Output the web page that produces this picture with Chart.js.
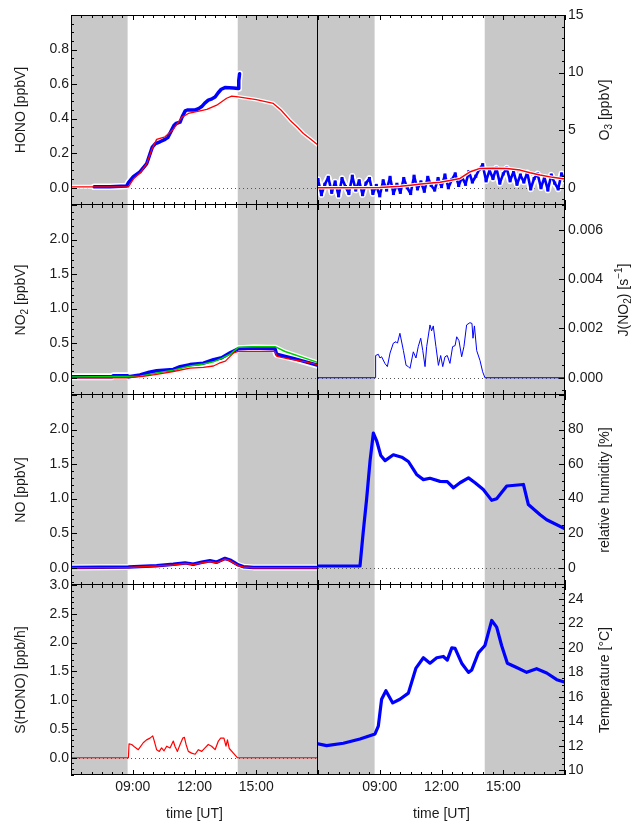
<!DOCTYPE html>
<html>
<head>
<meta charset="utf-8">
<script src="https://cdn.jsdelivr.net/npm/chart.js@4.4.1/dist/chart.umd.min.js"></script>
<style>
  body { margin: 0; background: #fff; }
  #wrap { position: relative; width: 635px; height: 824px; overflow: hidden; }
  #wrap canvas { position: absolute; }
</style>
</head>
<body>
<div id="wrap"></div>
<script>
// ---- shared time axis (hours UT) ----
const xMin = 6, xMax = 18;
const xTickHours = [9, 12, 15];
const xTickLabels = ['09:00', '12:00', '15:00'];
const nightBands = [[6, 8.75], [14.1, 18]];

// ---- HONO ----
const honoMeasHour = [7.13, 7.9, 8.7, 8.79, 9.03, 9.35, 9.68, 9.85, 9.95, 10.1, 10.32, 10.57, 10.7, 10.85, 11.0, 11.1, 11.3, 11.4, 11.55, 11.65, 12.03, 12.2, 12.35, 12.5, 12.67, 12.85, 13.0, 13.15, 13.3, 13.48, 13.89, 14.13, 14.15, 14.19];
const honoMeasVal = [0.005, 0.006, 0.01, 0.03, 0.064, 0.092, 0.14, 0.2, 0.235, 0.255, 0.266, 0.28, 0.29, 0.325, 0.36, 0.372, 0.38, 0.41, 0.445, 0.45, 0.45, 0.458, 0.47, 0.49, 0.507, 0.515, 0.525, 0.55, 0.57, 0.58, 0.578, 0.575, 0.62, 0.66];
const honoModelHour = [6.0, 8.79, 9.03, 9.35, 9.68, 9.92, 10.16, 10.57, 10.97, 11.38, 11.7, 12.1, 12.6, 13.08, 13.56, 13.81, 14.12, 15.0, 15.83, 16.2, 16.64, 17.0, 17.29, 17.65, 18.0];
const honoModelVal = [0.005, 0.005, 0.05, 0.085, 0.14, 0.22, 0.28, 0.295, 0.338, 0.407, 0.43, 0.44, 0.454, 0.478, 0.518, 0.53, 0.526, 0.51, 0.488, 0.45, 0.391, 0.35, 0.314, 0.28, 0.247];
const honoTicks = [0, 0.2, 0.4, 0.6, 0.8];

// ---- O3 ----
const o3Time = ['06:00','06:10','06:20','06:30','06:40','06:50','07:00','07:10','07:20','07:30','07:40','07:50',
  '08:00','08:10','08:20','08:30','08:40','08:50','09:00','09:10','09:20','09:30','09:40','09:50',
  '10:00','10:10','10:20','10:30','10:40','10:50','11:00','11:10','11:20','11:30','11:40','11:50',
  '12:00','12:10','12:20','12:30','12:40','12:50','13:00','13:10','13:20','13:30','13:40','13:50',
  '14:00','14:10','14:20','14:30','14:40','14:50','15:00','15:10','15:20','15:30','15:40','15:50',
  '16:00','16:10','16:20','16:30','16:40','16:50','17:00','17:10','17:20','17:30','17:40','17:50','18:00'];
const o3Val = [0.7, -0.6, 0.3, 0.9, -0.4, 0.5, -0.7, 0.8, 0.1, -0.5, 1.0, -0.2,
  0.6, -0.6, 0.4, 0.8, -0.5, 0.2, -0.7, 0.6, -0.2, 0.9, -0.5, 0.3,
  -0.4, 0.8, 0.0, -0.5, 1.0, -0.1, 0.5, -0.3, 0.9, 0.2, -0.2, 0.8,
  0.1, 1.1, 0.0, 0.7, 1.2, 0.2, 0.9, 0.3, 1.4, 0.5, 1.0, 1.6,
  2.0, 0.6, 1.5, 0.8, 1.7, 0.4, 1.2, 1.7, 0.6, 1.4, 0.3, 1.1,
  0.5, 1.3, -0.1, 0.8, 1.2, 0.0, 0.9, -0.2, 1.1, 0.4, -0.1, 1.2, 0.6];
const o3ModelHour = [6.0, 9.0, 10.0, 10.5, 11.0, 11.5, 11.93, 12.4, 12.9, 13.4, 13.87, 14.5, 15.17, 15.82, 16.3, 16.79, 17.4, 18.0];
const o3ModelVal = [0.0, 0.02, 0.12, 0.22, 0.32, 0.4, 0.48, 0.62, 0.81, 1.39, 1.68, 1.7, 1.66, 1.53, 1.3, 1.1, 0.9, 0.75];
const o3Ticks = [0, 5, 10, 15];

// ---- NO2 ----
const no2MeasHour = [6.0, 8.0, 8.06, 8.75, 8.8, 9.35, 9.8, 10.16, 10.97, 11.3, 11.78, 12.43, 12.92, 13.32, 13.73, 14.13, 14.86, 15.91, 15.99, 16.8, 18.0];
const no2MeasVal = [0.015, 0.015, 0.03, 0.03, 0.015, 0.04, 0.08, 0.10, 0.12, 0.16, 0.19, 0.21, 0.26, 0.29, 0.36, 0.42, 0.43, 0.42, 0.34, 0.28, 0.18];
const no2GreenHour = [6.0, 9.35, 10.16, 10.97, 11.78, 12.43, 12.92, 13.32, 13.73, 14.13, 15.0, 15.91, 16.4, 16.8, 17.4, 18.0];
const no2GreenVal = [0.01, 0.02, 0.07, 0.11, 0.17, 0.2, 0.23, 0.28, 0.34, 0.44, 0.45, 0.45, 0.38, 0.34, 0.28, 0.22];
const no2RedHour = [6.0, 8.79, 9.5, 10.16, 10.97, 11.78, 12.43, 12.92, 13.2, 13.5, 13.9, 14.13, 15.91, 16.0, 16.8, 17.4, 18.0];
const no2RedVal = [0.0, 0.0, 0.02, 0.05, 0.09, 0.14, 0.15, 0.17, 0.21, 0.24, 0.36, 0.38, 0.38, 0.31, 0.26, 0.23, 0.19];
const no2Ticks = [0, 0.5, 1.0, 1.5, 2.0];

// ---- J(NO2) ----
const jHour = [6.0, 8.77, 8.8, 8.93, 9.01, 9.09, 9.25, 9.37, 9.5, 9.66, 9.79, 9.86, 9.98, 10.15, 10.28, 10.39, 10.47, 10.63, 10.76, 10.87,
  10.99, 11.09, 11.2, 11.28, 11.44, 11.52, 11.6, 11.73, 11.85, 11.96, 12.06, 12.17, 12.28, 12.41, 12.54, 12.66, 12.74, 12.85, 12.98, 13.09,
  13.22, 13.38, 13.48, 13.53, 13.6, 13.71, 13.87, 14.0, 14.11, 18.0];
const jVal = [0, 0, 0.0009, 0.00095, 0.0008, 0.00085, 0.00058, 0.00045, 0.001, 0.0014, 0.00146, 0.0014, 0.0018, 0.0011, 0.0005, 0.00045, 0.00038, 0.00105, 0.0008, 0.00126,
  0.0016, 0.0011, 0.00045, 0.00126, 0.00214, 0.0019, 0.0021, 0.00126, 0.0005, 0.0009, 0.00045, 0.00085, 0.0009, 0.00058, 0.00126, 0.0013, 0.00166, 0.0015, 0.00085, 0.00126,
  0.00214, 0.00223, 0.0022, 0.0016, 0.0021, 0.0011, 0.0007, 0.00024, 0, 0];
const jTicks = [0, 0.002, 0.004, 0.006];

// ---- NO ----
const noHour = [6.0, 8.79, 10.16, 10.97, 11.54, 11.94, 12.35, 12.75, 13.08, 13.48, 13.73, 14.13, 14.37, 14.86, 18.0];
const noMeasVal = [0.003, 0.01, 0.03, 0.05, 0.07, 0.05, 0.08, 0.1, 0.08, 0.135, 0.11, 0.04, 0.015, 0.005, 0.005];
const noModelVal = [0.0, 0.005, 0.025, 0.04, 0.06, 0.045, 0.07, 0.09, 0.07, 0.125, 0.10, 0.03, 0.01, 0.0, 0.0];
const noTicks = [0, 0.5, 1.0, 1.5, 2.0];

// ---- relative humidity ----
const rhHour = [6.0, 8.04, 8.2, 8.36, 8.53, 8.69, 8.85, 9.05, 9.26, 9.66, 10.07, 10.39, 10.79, 11.12, 11.44, 11.93, 12.28, 12.58, 12.9, 13.31, 13.63, 14.03, 14.44, 14.68, 15.17, 15.98, 16.22, 16.79, 17.11, 18.0];
const rhVal = [1, 1, 21, 39.5, 62, 78, 73.5, 65, 62, 65.4, 64, 61.5, 54, 51, 51.8, 50, 49.8, 46.3, 49.2, 52, 49.2, 45.3, 39, 40, 47.3, 48.2, 36.6, 30.7, 27.8, 22.6];
const rhTicks = [0, 20, 40, 60, 80];

// ---- S(HONO) ----
const sHour = [6.0, 8.79, 8.82, 8.95, 9.11, 9.27, 9.51, 9.67, 9.84, 9.97, 10.03, 10.16, 10.29, 10.4, 10.52, 10.65, 10.81, 10.97, 11.05, 11.17, 11.3,
  11.43, 11.51, 11.59, 11.7, 11.86, 12.03, 12.19, 12.35, 12.51, 12.67, 12.83, 13.0, 13.16, 13.27, 13.43, 13.53, 13.6, 13.69, 13.89, 14.08, 18.0];
const sVal = [0, 0, 0.24, 0.23, 0.18, 0.14, 0.26, 0.31, 0.34, 0.38, 0.31, 0.14, 0.11, 0.17, 0.12, 0.2, 0.17, 0.29, 0.2, 0.11, 0.23,
  0.34, 0.355, 0.23, 0.11, 0.08, 0.06, 0.14, 0.11, 0.17, 0.23, 0.2, 0.14, 0.29, 0.34, 0.34, 0.2, 0.31, 0.16, 0.08, 0, 0];
const sTicks = [0, 0.5, 1.0, 1.5, 2.0, 2.5, 3.0];

// ---- temperature ----
const tHour = [6.0, 6.42, 7.23, 8.04, 8.77, 8.93, 9.09, 9.3, 9.63, 9.98, 10.39, 10.76, 11.12, 11.44, 11.77, 12.09, 12.28, 12.5, 12.66, 12.98,
  13.31, 13.47, 13.79, 14.11, 14.44, 14.68, 14.92, 15.2, 15.65, 16.14, 16.62, 17.11, 17.6, 18.0];
const tVal = [12.15, 12.0, 12.2, 12.55, 12.96, 13.6, 15.8, 16.5, 15.5, 15.8, 16.3, 18.35, 19.2, 18.75, 19.2, 19.3, 19.0, 20.0, 19.96, 18.75,
  18.0, 18.2, 19.6, 20.2, 22.25, 21.7, 20.2, 18.75, 18.4, 18.0, 18.3, 17.95, 17.4, 17.2];
const tTicks = [10, 12, 14, 16, 18, 20, 22, 24];

const FONT = '"Liberation Sans", Arial, Helvetica, sans-serif';
const TEXT = '#1a1a1a';
const PAD = 12;
const wrap = document.getElementById('wrap');

function toHour(s) {
    const p = s.split(':');
    return +p[0] + (+p[1]) / 60;
}

function pts(xs, ys) {
    return xs.map((x, i) => ({ x: x, y: ys[i] }));
}

function line(data, color, width, order) {
    return { data: data, borderColor: color, borderWidth: width, pointRadius: 0, pointHoverRadius: 0, fill: false, tension: 0, order: order, borderJoinStyle: 'round', borderCapStyle: 'round' };
}

// title pieces: '_x' = subscript, '^x' = superscript
function drawTitle(ctx, segs, cx, cy) {
    ctx.save();
    ctx.translate(cx, cy);
    ctx.rotate(-Math.PI / 2);
    ctx.fillStyle = TEXT;
    ctx.textBaseline = 'middle';
    ctx.textAlign = 'left';
    const parts = segs.map(s => {
        if (s[0] === '_') return { t: s.slice(1), size: 10, dy: 4 };
        if (s[0] === '^') return { t: s.slice(1), size: 10, dy: -5 };
        return { t: s, size: 14, dy: 0 };
    });
    let w = 0;
    parts.forEach(p => { ctx.font = p.size + 'px ' + FONT; p.w = ctx.measureText(p.t).width; w += p.w; });
    let x0 = -w / 2;
    parts.forEach(p => { ctx.font = p.size + 'px ' + FONT; ctx.fillText(p.t, x0, p.dy); x0 += p.w; });
    ctx.restore();
}

function makeDeco(cfg, isLeft, isBottom, cLeft, cTop) {
    return {
        id: 'deco',
        beforeDatasetsDraw(chart) {
            const ctx = chart.ctx, a = chart.chartArea, x = chart.scales.x, y = chart.scales.y;
            ctx.save();
            ctx.beginPath();
            ctx.rect(a.left, a.top, a.right - a.left, a.bottom - a.top);
            ctx.clip();
            ctx.fillStyle = 'rgb(200,200,200)';
            nightBands.forEach(b => {
                const x0 = x.getPixelForValue(b[0]), x1 = x.getPixelForValue(b[1]);
                ctx.fillRect(x0, a.top, x1 - x0, a.bottom - a.top);
            });
            if (cfg.yMin < 0 && cfg.yMax > 0) {
                const yz = Math.round(y.getPixelForValue(0)) + 0.5;
                ctx.strokeStyle = '#555';
                ctx.lineWidth = 1;
                ctx.setLineDash([1, 3]);
                ctx.beginPath();
                ctx.moveTo(a.left, yz);
                ctx.lineTo(a.right, yz);
                ctx.stroke();
            }
            ctx.restore();
        },
        afterDraw(chart) {
            const ctx = chart.ctx, a = chart.chartArea, x = chart.scales.x, y = chart.scales.y;
            ctx.save();
            ctx.strokeStyle = '#000';
            ctx.lineWidth = 1;
            ctx.beginPath();
            // frame (shared edges drawn once)
            const L = a.left + 0.5, R = a.right - 0.5, T = a.top + 0.5, B = a.bottom - 0.5;
            if (cfg.row === 0) { ctx.moveTo(a.left, T); ctx.lineTo(a.right, T); }
            ctx.moveTo(a.left, B); ctx.lineTo(a.right, B);
            if (isLeft) { ctx.moveTo(L, a.top); ctx.lineTo(L, a.bottom); }
            ctx.moveTo(R, a.top); ctx.lineTo(R, a.bottom);
            // y ticks, inward
            const n0 = Math.ceil(cfg.yMin / cfg.yMinor - 1e-9), n1 = Math.floor(cfg.yMax / cfg.yMinor + 1e-9);
            for (let k = n0; k <= n1; k++) {
                const v = k * cfg.yMinor;
                const r = v / cfg.yMajor;
                const len = Math.abs(r - Math.round(r)) < 1e-6 ? 6 : 3;
                const py = Math.round(y.getPixelForValue(v)) + 0.5;
                if (isLeft) { ctx.moveTo(a.left, py); ctx.lineTo(a.left + len, py); }
                else { ctx.moveTo(a.right, py); ctx.lineTo(a.right - len, py); }
            }
            // x ticks on top and bottom, inward
            for (let k = xMin * 2; k <= xMax * 2; k++) {
                const v = k / 2;
                const len = v % 3 === 0 ? 5 : 3;
                const px = Math.round(x.getPixelForValue(v)) + 0.5;
                ctx.moveTo(px, a.top); ctx.lineTo(px, a.top + len);
                ctx.moveTo(px, a.bottom); ctx.lineTo(px, a.bottom - len);
            }
            ctx.stroke();
            ctx.restore();
            drawTitle(ctx, cfg.title, cfg.titleX - cLeft, (a.top + a.bottom) / 2);
            if (isBottom) {
                ctx.save();
                ctx.fillStyle = TEXT;
                ctx.font = '14px ' + FONT;
                ctx.textAlign = 'center';
                ctx.textBaseline = 'middle';
                ctx.fillText('time [UT]', (a.left + a.right) / 2, 814 - cTop);
                ctx.restore();
            }
        }
    };
}

function makePanel(cfg) {
    const isLeft = cfg.side === 'left';
    const isBottom = cfg.row === 3;
    const chartTop = 15 + 190 * cfg.row;
    const cLeft = isLeft ? 0 : 316;
    const cWidth = isLeft ? 320 : 319;
    const cTop = chartTop - PAD;
    const cHeight = isBottom ? 824 - cTop : 190 + 2 * PAD;

    const canvas = document.createElement('canvas');
    canvas.width = cWidth;
    canvas.height = cHeight;
    canvas.style.left = cLeft + 'px';
    canvas.style.top = cTop + 'px';
    canvas.style.width = cWidth + 'px';
    canvas.style.height = cHeight + 'px';
    wrap.appendChild(canvas);

    new Chart(canvas, {
        type: 'line',
        data: { datasets: cfg.datasets },
        options: {
            responsive: false,
            animation: false,
            events: [],
            layout: { autoPadding: false, padding: { top: PAD, bottom: isBottom ? 0 : PAD, left: isLeft ? 0 : 2, right: isLeft ? 2 : 0 } },
            plugins: { legend: { display: false }, tooltip: { enabled: false } },
            scales: {
                x: {
                    type: 'linear', min: xMin, max: xMax, display: isBottom,
                    grid: { display: false, drawTicks: false }, border: { display: false },
                    afterBuildTicks: s => { s.ticks = xTickHours.map(v => ({ value: v })); },
                    ticks: { callback: (v, i) => xTickLabels[i], font: { family: FONT, size: 14 }, color: TEXT, padding: 4, maxRotation: 0, autoSkip: false },
                    afterFit: s => { if (isBottom) s.height = 49; s.paddingLeft = 0; s.paddingRight = 0; }
                },
                y: {
                    type: 'linear', position: cfg.side, min: cfg.yMin, max: cfg.yMax,
                    grid: { display: false, drawTicks: false }, border: { display: false },
                    afterBuildTicks: s => { s.ticks = cfg.yTicks.map(v => ({ value: v })); },
                    ticks: { callback: v => v.toFixed(cfg.digits), font: { family: FONT, size: 14 }, color: TEXT, padding: isLeft ? 2 : 3, autoSkip: false },
                    afterFit: s => { s.width = isLeft ? 71 : 70; s.paddingTop = 0; s.paddingBottom = 0; }
                }
            }
        },
        plugins: [makeDeco(cfg, isLeft, isBottom, cLeft, cTop)]
    });
}

const o3Hour = o3Time.map(toHour);
const o3Points = line(pts(o3Hour, o3Val), '#0000ff', 2.6, 3);
o3Points.pointRadius = 2.2;
o3Points.pointStyle = 'rect';
o3Points.pointBackgroundColor = '#0000ff';
o3Points.pointBorderWidth = 0;
const o3Halo = line(pts(o3Hour, o3Val), '#fff', 6.5, 5);

makePanel({
    side: 'left', row: 0, yMin: -0.1, yMax: 1.0, yMajor: 0.2, yMinor: 0.05, yTicks: honoTicks, digits: 1,
    title: ['HONO [ppbV]'], titleX: 21,
    datasets: [
        line(pts(honoMeasHour, honoMeasVal), '#fff', 6.5, 5),
        line(pts(honoModelHour, honoModelVal), '#fff', 4, 4),
        line(pts(honoMeasHour, honoMeasVal), '#0000ff', 3.5, 3),
        line(pts(honoModelHour, honoModelVal), '#ff0000', 1.3, 1)
    ]
});
makePanel({
    side: 'right', row: 0, yMin: -1.5, yMax: 15, yMajor: 5, yMinor: 1, yTicks: o3Ticks, digits: 0,
    title: ['O', '_3', ' [ppbV]'], titleX: 605,
    datasets: [
        o3Halo,
        o3Points,
        line(pts(o3ModelHour, o3ModelVal), '#fff', 3.5, 2),
        line(pts(o3ModelHour, o3ModelVal), '#ff0000', 1.5, 1)
    ]
});
makePanel({
    side: 'left', row: 1, yMin: -0.25, yMax: 2.5, yMajor: 0.5, yMinor: 0.1, yTicks: no2Ticks, digits: 1,
    title: ['NO', '_2', ' [ppbV]'], titleX: 21,
    datasets: [
        line(pts(no2MeasHour, no2MeasVal), '#fff', 7, 6),
        line(pts(no2GreenHour, no2GreenVal), '#fff', 4, 5),
        line(pts(no2MeasHour, no2MeasVal), '#0000ff', 3.5, 3),
        line(pts(no2GreenHour, no2GreenVal), '#00d000', 1.5, 2),
        line(pts(no2RedHour, no2RedVal), '#ff0000', 1.3, 1)
    ]
});
makePanel({
    side: 'right', row: 1, yMin: -0.0007, yMax: 0.007, yMajor: 0.002, yMinor: 0.0005, yTicks: jTicks, digits: 3,
    title: ['J(NO', '_2', ') [s', '^−1', ']'], titleX: 624,
    datasets: [
        line(pts(jHour, jVal), '#0000ff', 1, 1)
    ]
});
makePanel({
    side: 'left', row: 2, yMin: -0.25, yMax: 2.5, yMajor: 0.5, yMinor: 0.1, yTicks: noTicks, digits: 1,
    title: ['NO [ppbV]'], titleX: 21,
    datasets: [
        line(pts(noHour, noMeasVal), '#fff', 6, 4),
        line(pts(noHour, noMeasVal), '#0000ff', 3.5, 2),
        line(pts(noHour, noModelVal), '#ff0000', 1.5, 1)
    ]
});
makePanel({
    side: 'right', row: 2, yMin: -10, yMax: 100, yMajor: 20, yMinor: 5, yTicks: rhTicks, digits: 0,
    title: ['relative humidity [%]'], titleX: 605,
    datasets: [
        line(pts(rhHour, rhVal), '#0000ff', 3.2, 1)
    ]
});
makePanel({
    side: 'left', row: 3, yMin: -0.3, yMax: 3.0, yMajor: 0.5, yMinor: 0.1, yTicks: sTicks, digits: 1,
    title: ['S(HONO) [ppb/h]'], titleX: 21,
    datasets: [
        line(pts(sHour, sVal), '#ff0000', 1.2, 1)
    ]
});
makePanel({
    side: 'right', row: 3, yMin: 9.6, yMax: 25.15, yMajor: 2, yMinor: 0.5, yTicks: tTicks, digits: 0,
    title: ['Temperature [°C]'], titleX: 605,
    datasets: [
        line(pts(tHour, tVal), '#0000ff', 3.2, 1)
    ]
});
</script>
</body>
</html>
